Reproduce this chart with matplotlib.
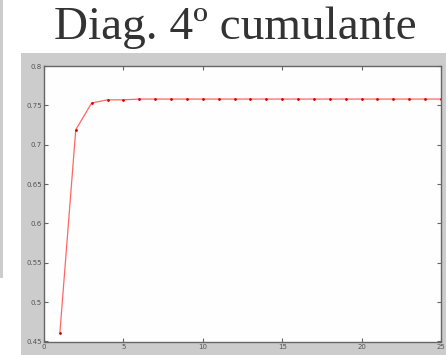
import numpy as np
import matplotlib as mpl
mpl.use('Agg')
import matplotlib.pyplot as plt
from matplotlib.patches import Rectangle

#data
aIteration = np.arange(1, 26)
aCumulant = [0.461, 0.719, 0.753, 0.757, 0.757, 0.758, 0.758, 0.758, 0.758, 0.758,
             0.758, 0.758, 0.758, 0.758, 0.758, 0.758, 0.758, 0.758, 0.758, 0.758,
             0.758, 0.758, 0.758, 0.758, 0.758]
aXtick = [0, 5, 10, 15, 20, 25]
aYtick = [0.45, 0.5, 0.55, 0.6, 0.65, 0.7, 0.75, 0.8]
aYtick_label = ['0.45', '0.5', '0.55', '0.6', '0.65', '0.7', '0.75', '0.8']
sTitle = 'Diag. 4º cumulante'

W, H = 446, 355
fig = plt.figure(figsize=(W / 100, H / 100), dpi=100)
fig.patch.set_facecolor('white')

#gray matlab panel and left strip
fig.patches.append(Rectangle((21 / W, 0), 1 - 21 / W, (H - 53) / H,
                             transform=fig.transFigure, facecolor='#cccccc', edgecolor='none', zorder=-5))
fig.patches.append(Rectangle((0, (H - 278) / H), 3 / W, 278 / H,
                             transform=fig.transFigure, facecolor='#cccccc', edgecolor='none', zorder=-5))

fig.text(235 / W, 1 - 28 / H, sTitle, ha='center', va='center', fontsize=34,
         family='Liberation Serif', color='#333333')

ax = fig.add_axes([44 / W, (H - 341.5) / H, (441 - 44) / W, (341.5 - 66) / H])
ax.set_facecolor('#fefefe')
ax.plot(aIteration, aCumulant, color='#ff6666', linewidth=0.9,
        marker='.', markersize=2, markerfacecolor='#dd0000', markeredgecolor='#dd0000')
ax.set_xlim(0, 25)
ax.set_ylim(0.45, 0.8)
ax.set_xticks(aXtick)
ax.set_yticks(aYtick)
ax.set_yticklabels(aYtick_label)
ax.tick_params(direction='in', length=3, width=0.8, color='#666666', labelsize=5,
               labelcolor='#555555', top=True, right=True, pad=1.5)
for s in ax.spines.values():
    s.set_color('#666666')
    s.set_linewidth(1.0)

plt.savefig('out.png', dpi=100)
